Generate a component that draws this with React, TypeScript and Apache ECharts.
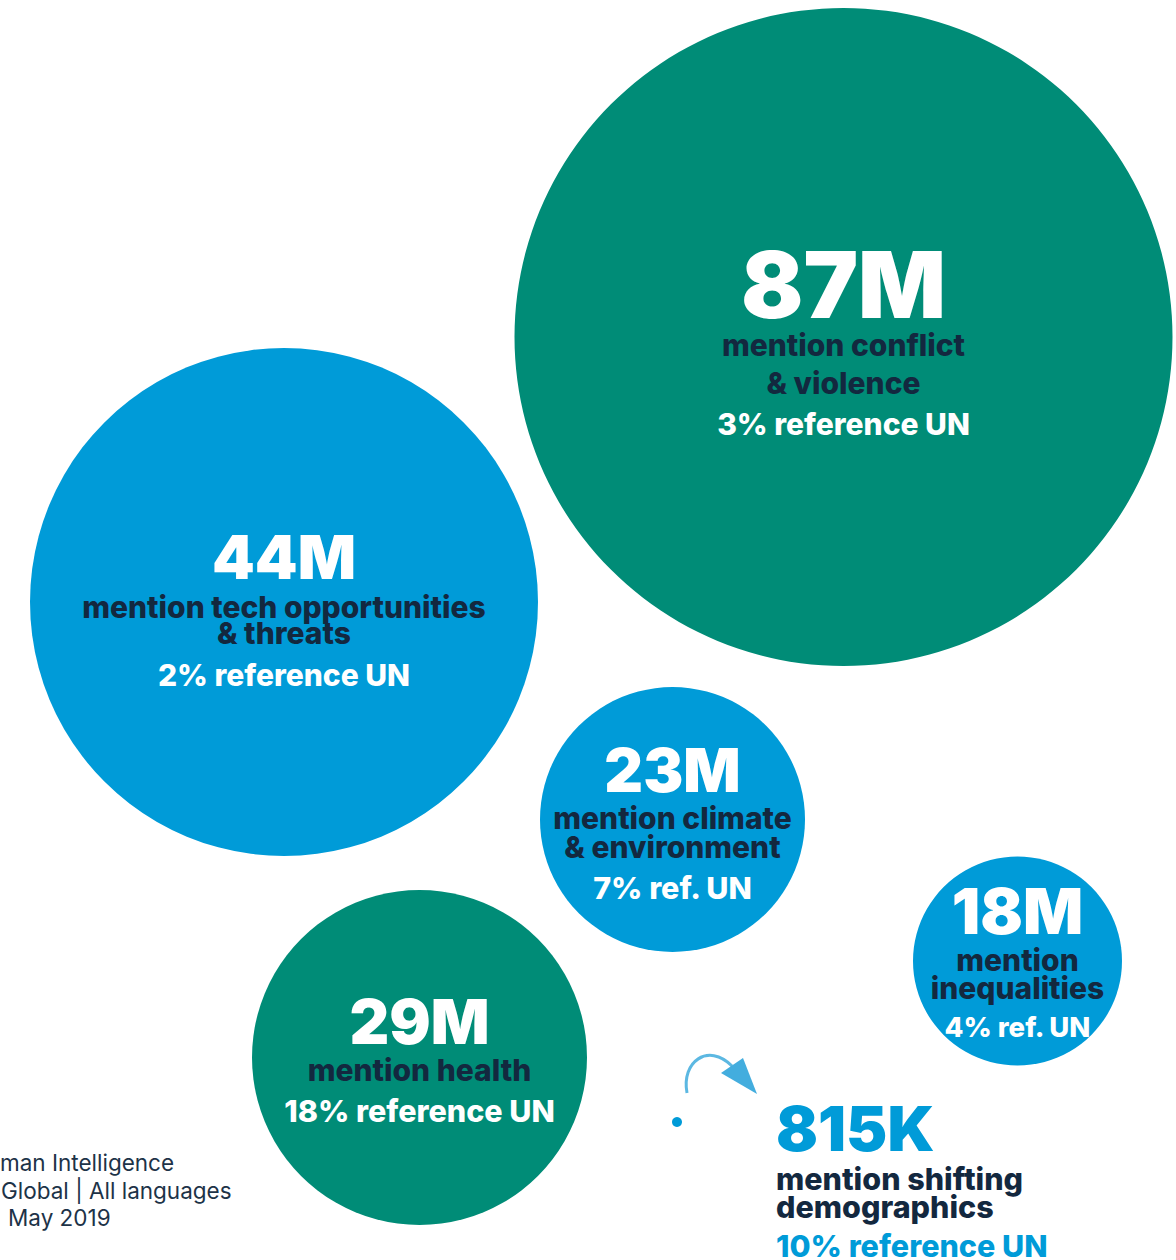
import React, { useEffect, useRef } from "react";
import * as echarts from "echarts";

// ---- data ----
const categories = [
  "conflict & violence",
  "tech opportunities & threats",
  "climate & environment",
  "health",
  "inequalities",
  "shifting demographics",
];
const mentions = [87000000, 44000000, 23000000, 29000000, 18000000, 815000];
const mentionLabels = ["87M", "44M", "23M", "29M", "18M", "815K"];
const descLines = [
  ["mention conflict", "& violence"],
  ["mention tech opportunities", "& threats"],
  ["mention climate", "& environment"],
  ["mention health"],
  ["mention", "inequalities"],
  ["mention shifting", "demographics"],
];
const unRefLabels = [
  "3% reference UN",
  "2% reference UN",
  "7% ref. UN",
  "18% reference UN",
  "4% ref. UN",
  "10% reference UN",
];
const sourceLines = ["man Intelligence", "Global | All languages", "May 2019"];

// ---- layout & styles ----
const GREEN = "#008c77";
const BLUE = "#009bd8";
const NAVY = "#13283f";
const FONT = "Inter, 'Noto Sans', sans-serif";

const layout = [
  { cx: 843.5, cy: 337, r: 329, fill: GREEN, numSize: 92, numLH: 83, descSize: 30, descLH: 38, refSize: 30, refLH: 43, numColor: "#fff", refColor: "#fff", offset: 7 },
  { cx: 284, cy: 602, r: 254, fill: BLUE, numSize: 61, numLH: 75, descSize: 30, descLH: 26, refSize: 30, refLH: 57, numColor: "#fff", refColor: "#fff", offset: 9 },
  { cx: 672.5, cy: 819.5, r: 132.5, fill: BLUE, numSize: 60, numLH: 67, descSize: 30, descLH: 29, refSize: 30.5, refLH: 51, numColor: "#fff", refColor: "#fff", offset: 5 },
  { cx: 419.5, cy: 1057.5, r: 167.5, fill: GREEN, numSize: 61.5, numLH: 68, descSize: 30, descLH: 30, refSize: 30.5, refLH: 51, numColor: "#fff", refColor: "#fff", offset: 4 },
  { cx: 1017.5, cy: 961, r: 104.5, fill: BLUE, numSize: 63, numLH: 71, descSize: 30, descLH: 28, refSize: 27.5, refLH: 50, numColor: "#fff", refColor: "#fff", offset: 2.5 },
  { cx: 677, cy: 1122, r: 5, fill: BLUE, numSize: 62, numLH: 71, descSize: 30.5, descLH: 28, refSize: 30.5, refLH: 51, numColor: BLUE, refColor: BLUE, offset: 0 },
];

function buildLabel(i: number) {
  const L = layout[i];
  const rich = {
    num: { fontSize: L.numSize, lineHeight: L.numLH, fontWeight: 900, color: L.numColor, fontFamily: FONT },
    desc: { fontSize: L.descSize, lineHeight: L.descLH, fontWeight: 800, color: NAVY, fontFamily: FONT },
    ref: { fontSize: L.refSize, lineHeight: L.refLH, fontWeight: 800, color: L.refColor, fontFamily: FONT },
  };
  const text =
    `{num|${mentionLabels[i]}}\n` +
    descLines[i].map((d) => `{desc|${d}}`).join("\n") +
    `\n{ref|${unRefLabels[i]}}`;
  if (i === 5) {
    return {
      show: true,
      opacity: 1,
      position: [104, -24],
      align: "left",
      verticalAlign: "top",
      formatter: () => text,
      rich,
    };
  }
  return {
    show: true,
    opacity: 1,
    position: "inside",
    align: "center",
    verticalAlign: "middle",
    offset: [0, L.offset],
    formatter: () => text,
    rich,
  };
}

export default function App() {
  const ref = useRef<HTMLDivElement>(null);
  useEffect(() => {
    if (!ref.current) return;
    const chart = echarts.init(ref.current, null, { renderer: "svg" });
    const data = mentions.map((v, i) => ({
      name: categories[i],
      value: [layout[i].cx, layout[i].cy, v],
      symbolSize: layout[i].r * 2,
      itemStyle: { color: layout[i].fill, opacity: 1 },
      label: buildLabel(i),
    }));
    chart.setOption({
      animation: false,
      backgroundColor: "#ffffff",
      grid: { left: 0, right: 0, top: 0, bottom: 0 },
      xAxis: { type: "value", min: 0, max: 1176, show: false },
      yAxis: { type: "value", min: 0, max: 1260, inverse: true, show: false },
      series: [
        {
          type: "scatter",
          symbol: "circle",
          data,
          itemStyle: { opacity: 1 },
          emphasis: { disabled: true },
          silent: true,
        },
      ],
      graphic: [
        {
          type: "bezierCurve",
          shape: { x1: 687, y1: 1093, cpx1: 681, cpy1: 1062, cpx2: 708, cpy2: 1042, x2: 732, y2: 1066 },
          style: { stroke: "#3fabdd", lineWidth: 3, fill: null, opacity: 0.85 },
        },
        {
          type: "polygon",
          shape: { points: [[721, 1073], [743, 1058], [757, 1094]] },
          style: { fill: "#2fa4da", opacity: 0.9 },
        },
        ...sourceLines.map((t, k) => ({
          type: "text",
          x: [0, 1, 8][k],
          y: [1162, 1190, 1217][k],
          style: {
            text: t,
            fontSize: 22.5,
            fontFamily: FONT,
            fontWeight: 400,
            fill: "#1d3348",
            verticalAlign: "middle",
            align: "left",
          },
        })),
      ],
    });
    return () => chart.dispose();
  }, []);
  return (
    <div
      ref={ref}
      style={{ position: "absolute", left: 0, top: 0, width: 1176, height: 1260 }}
    />
  );
}
